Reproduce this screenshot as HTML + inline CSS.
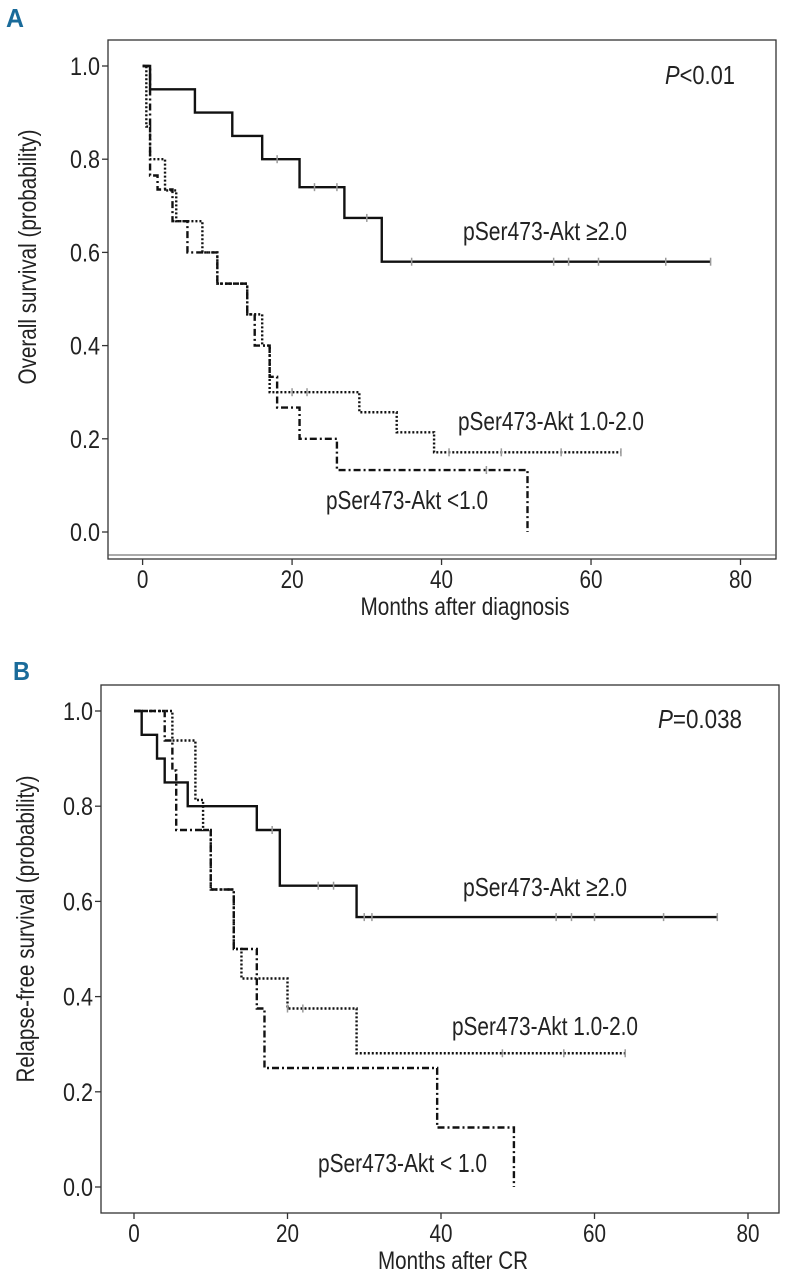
<!DOCTYPE html>
<html><head><meta charset="utf-8">
<style>
html,body{margin:0;padding:0;background:#fff;overflow:hidden;}
svg{display:block;font-family:"Liberation Sans",sans-serif;}
</style></head>
<body>
<svg id="fig" width="786" height="1280" viewBox="0 0 786 1280">
<text x="6" y="27" font-size="26" font-weight="bold" fill="#1a6b9a" textLength="18" lengthAdjust="spacingAndGlyphs">A</text>
<text x="13" y="680" font-size="26" font-weight="bold" fill="#1a6b9a" textLength="17" lengthAdjust="spacingAndGlyphs">B</text>
</svg>
<script>
// Panel A data
const aTicksX = [0,20,40,60,80];
const aTicksY = [0,0.2,0.4,0.6,0.8,1.0];
const aHighT = [0,1,7,12,16,21,27,32,76];
const aHighS = [1.0,0.95,0.9,0.85,0.8,0.74,0.674,0.58,0.58];
const aHighCens = [18,23,26,30,36,55,57,61,70,76];
const aMidT = [0,0.5,1,3,4.5,8,10,14,16,17,29,34,39,64];
const aMidS = [1.0,0.87,0.8,0.733,0.667,0.6,0.533,0.467,0.4,0.3,0.257,0.214,0.171,0.171];
const aMidCens = [20,22,41,48,56,64];
const aLowT = [0,1,2,4,6,10,14,15,17,18,21,26,51.5,51.5];
const aLowS = [1.0,0.765,0.735,0.667,0.6,0.533,0.467,0.4,0.333,0.267,0.2,0.133,0.133,0];
const aLowCens = [46];
// Panel B data
const bTicksX = [0,20,40,60,80];
const bTicksY = [0,0.2,0.4,0.6,0.8,1.0];
const bHighT = [0,1,3,4,7,16,19,29,76];
const bHighS = [1.0,0.95,0.9,0.85,0.8,0.75,0.633,0.567,0.567];
const bHighCens = [18,24,26,30,31,55,57,60,69,76];
const bMidT = [0,5,8,9,10,13,14,20,29,64];
const bMidS = [1.0,0.938,0.813,0.75,0.625,0.5,0.438,0.375,0.281,0.281];
const bMidCens = [20,22,48,56,64];
const bLowT = [0,4,5,5.5,10,13,16,17,39.5,49.5,49.5];
const bLowS = [1.0,0.938,0.875,0.75,0.625,0.5,0.375,0.25,0.125,0.125,0];
const bLowCens = [];

const NS='http://www.w3.org/2000/svg';
const svg=document.getElementById('fig');
function mk(tag,attrs,parent){const e=document.createElementNS(NS,tag);for(const k in attrs)e.setAttribute(k,attrs[k]);(parent||svg).appendChild(e);return e;}

function panel(cfg){
  const g=mk('g',{});
  
  
  const sx=v=>cfg.x0+(cfg.x80-cfg.x0)*v/80;
  const sy=v=>cfg.y0-(cfg.y0-cfg.y1)*v;
  const box=mk('rect',{x:cfg.L,y:cfg.T,width:cfg.R-cfg.L,height:cfg.B-cfg.T,fill:'none',stroke:'#333','stroke-width':1.3},g);
  
  
  if(cfg.dbl){mk('line',{x1:cfg.L,x2:cfg.R,y1:cfg.B-4,y2:cfg.B-4,stroke:'#555','stroke-width':1},g);}
  cfg.tx.forEach(v=>{
    mk('line',{x1:sx(v),x2:sx(v),y1:cfg.B,y2:cfg.B+6,stroke:'#333','stroke-width':1.3},g);
    const s=String(v);
    const t=mk('text',{x:sx(v),y:cfg.B+29,'font-size':25,'text-anchor':'middle',fill:'#222',textLength:s.length*11.5,lengthAdjust:'spacingAndGlyphs'},g);
    t.textContent=s;
    
    
  });
  cfg.ty.forEach(v=>{
    mk('line',{x1:cfg.L-6,x2:cfg.L,y1:sy(v),y2:sy(v),stroke:'#333','stroke-width':1.3},g);
    const t=mk('text',{x:cfg.L-8,y:sy(v)+9,'font-size':25,'text-anchor':'end',fill:'#222',textLength:30,lengthAdjust:'spacingAndGlyphs'},g);
    t.textContent=v.toFixed(1);
    
    
  });
  const xt=mk('text',{x:cfg.xtx,y:cfg.B+56,'font-size':25,'text-anchor':'middle',fill:'#222',textLength:cfg.xtl,lengthAdjust:'spacingAndGlyphs'},g);
  xt.textContent=cfg.xtitle;
  
  
  const yt=mk('text',{x:0,y:0,'font-size':25,'text-anchor':'middle',fill:'#222',textLength:cfg.ytl,lengthAdjust:'spacingAndGlyphs',transform:`translate(${cfg.ytx},${cfg.yty}) rotate(-90)`},g);
  yt.textContent=cfg.ytitle;
  
  
  const pv=mk('text',{x:cfg.px,y:cfg.py,'font-size':26,'text-anchor':'end',fill:'#222',textLength:cfg.pl,lengthAdjust:'spacingAndGlyphs'},g);
  pv.innerHTML='<tspan font-style="italic">P</tspan>'+cfg.p;
  
  
  cfg.series.forEach(s=>{
    let d='M'+sx(s.t[0])+','+sy(s.s[0]);
    for(let i=1;i<s.t.length;i++){d+=' H'+sx(s.t[i])+' V'+sy(s.s[i]);}
    const p=mk('path',{d:d,fill:'none',stroke:'#111','stroke-width':s.w,'stroke-dasharray':s.dash},g);
    
    
    s.c.forEach(c=>{
      let sv=s.s[0];
      for(let i=0;i<s.t.length;i++){if(s.t[i]<=c)sv=s.s[i];}
      const m=mk('line',{x1:sx(c),x2:sx(c),y1:sy(sv)-4,y2:sy(sv)+4,stroke:'#999','stroke-width':1.5},g);
      
      
    });
    const lb=mk('text',{x:s.lx,y:s.ly,'font-size':26,fill:'#222',textLength:s.ll,lengthAdjust:'spacingAndGlyphs'},g);
    lb.textContent=s.label;
    
    
  });
}

panel({name:'panel-a-chart',L:108,T:40,R:776,B:559,dbl:true,x0:142.6,x80:740.5,y0:532,y1:66,
  tx:aTicksX,ty:aTicksY,xtitle:'Months after diagnosis',xtx:465,xtl:209,ytitle:'Overall survival (probability)',ytx:36,yty:257,ytl:255,
  p:'<0.01',px:735,py:84,pl:70,
  series:[
    {name:'high-akt',t:aHighT,s:aHighS,c:aHighCens,w:2.4,dash:'none',label:'pSer473-Akt \u22652.0',lx:463,ly:240,ll:164},
    {name:'mid-akt',t:aMidT,s:aMidS,c:aMidCens,w:2.4,dash:'2,2',label:'pSer473-Akt 1.0-2.0',lx:458,ly:430,ll:186},
    {name:'low-akt',t:aLowT,s:aLowS,c:aLowCens,w:2.4,dash:'7,3,2,3',label:'pSer473-Akt <1.0',lx:326,ly:509,ll:162}
  ]});
panel({name:'panel-b-chart',L:101,T:685,R:779,B:1213,dbl:false,x0:134,x80:748,y0:1187,y1:711,
  tx:bTicksX,ty:bTicksY,xtitle:'Months after CR',xtx:453,xtl:150,ytitle:'Relapse-free survival (probability)',ytx:34,yty:929,ytl:307,
  p:'=0.038',px:742,py:728,pl:84,
  series:[
    {name:'high-akt',t:bHighT,s:bHighS,c:bHighCens,w:2.4,dash:'none',label:'pSer473-Akt \u22652.0',lx:463,ly:896,ll:164},
    {name:'mid-akt',t:bMidT,s:bMidS,c:bMidCens,w:2.4,dash:'2,2',label:'pSer473-Akt 1.0-2.0',lx:452,ly:1035,ll:186},
    {name:'low-akt',t:bLowT,s:bLowS,c:bLowCens,w:2.4,dash:'7,3,2,3',label:'pSer473-Akt < 1.0',lx:318,ly:1172,ll:169}
  ]});
</script>
</body></html>
